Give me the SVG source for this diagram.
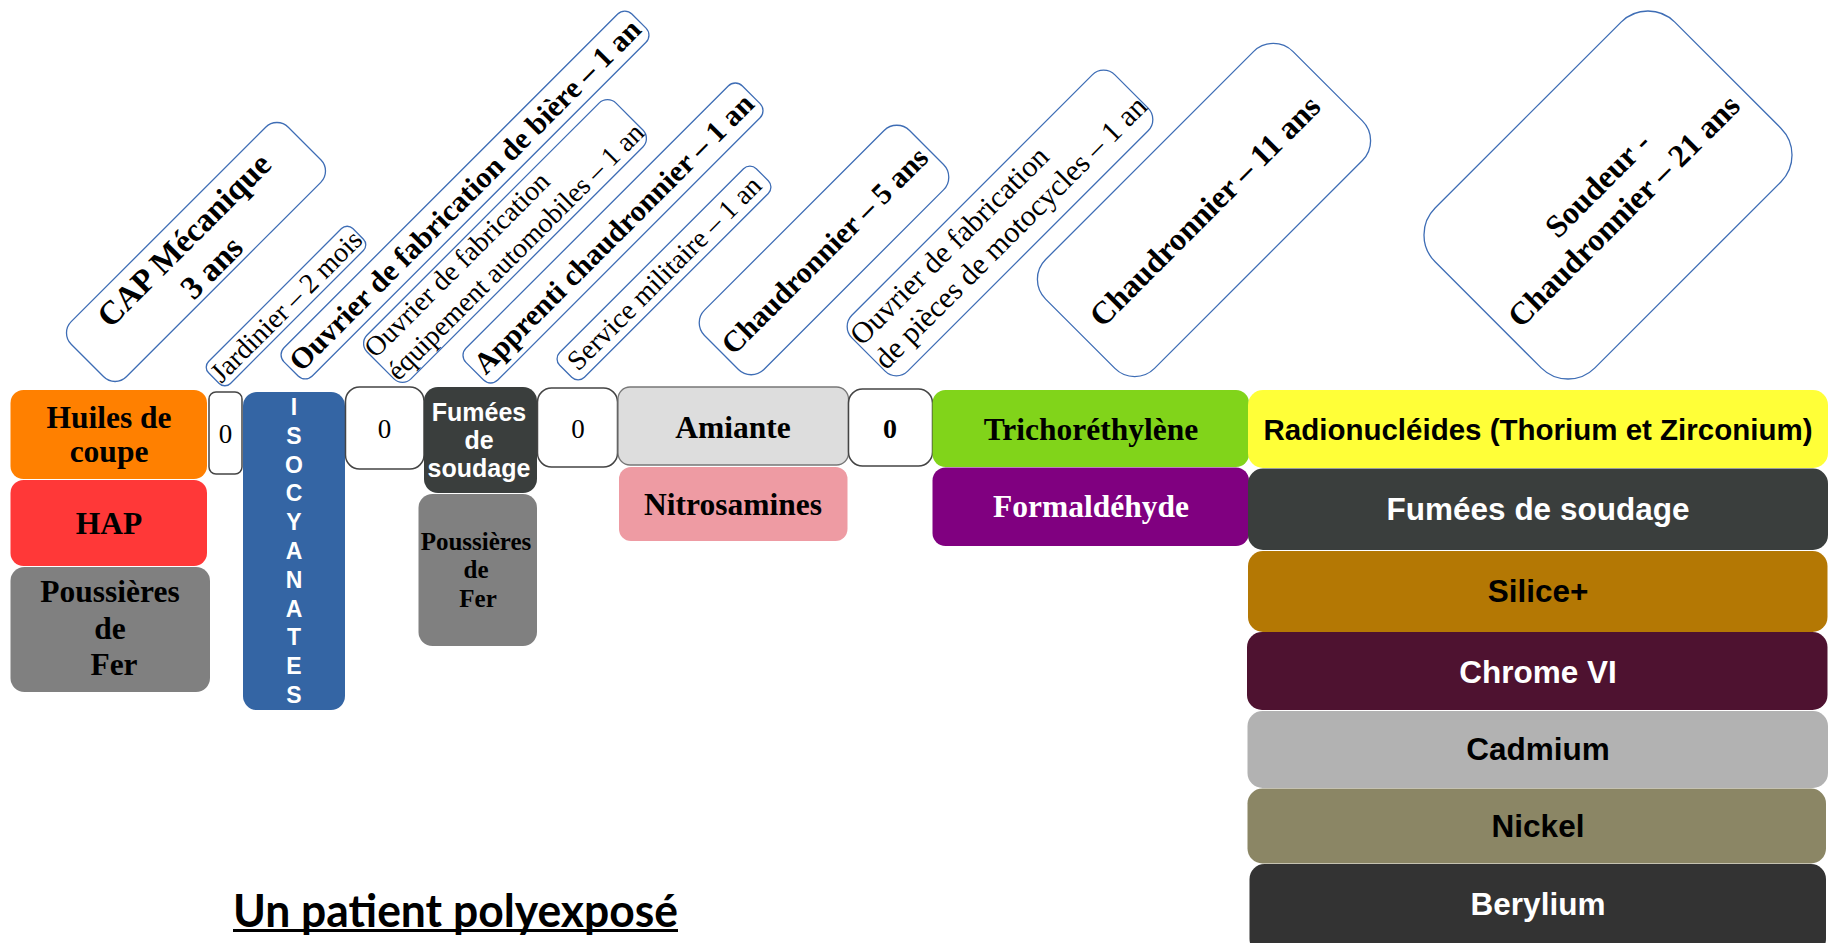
<svg xmlns="http://www.w3.org/2000/svg" width="1839" height="943" viewBox="0 0 1839 943">
<style>
.job{fill:#fff;stroke:#3E6DB5;stroke-width:1.3}
.sb{font-family:"Liberation Serif",serif;font-weight:bold;text-anchor:middle}
.sr{font-family:"Liberation Serif",serif;text-anchor:middle}
.sl{font-family:"Liberation Serif",serif;text-anchor:start}
.ab{font-family:"Liberation Sans",Arial,sans-serif;font-weight:bold;text-anchor:middle}
.zero{fill:#fff;stroke:#444;stroke-width:1.5}
.w{fill:#fff}
.k{fill:#000}
</style>
<rect width="1839" height="943" fill="#fff"/>

<!-- rotated job boxes -->
<g id="job-cap" transform="translate(196 252) rotate(-45)">
<rect class="job" x="-153.5" y="-39" width="307" height="78" rx="16"/>
<text class="sb" font-size="33" y="-6">CAP Mécanique</text>
<text class="sb" font-size="33" y="33">3 ans</text>
</g>
<g id="job-jardinier" transform="translate(286 306) rotate(-45)">
<rect class="job" x="-102" y="-15.5" width="204" height="31" rx="8"/>
<text class="sr" font-size="28" y="9.5">Jardinier – 2 mois</text>
</g>
<g id="job-biere" transform="translate(465 195) rotate(-45)">
<rect class="job" x="-246" y="-20" width="492" height="40" rx="10"/>
<text class="sb" font-size="30" y="10">Ouvrier de fabrication de bière – 1 an</text>
</g>
<g id="job-auto" transform="translate(505 241) rotate(-45)">
<rect class="job" x="-176" y="-31" width="352" height="62" rx="12"/>
<text class="sl" font-size="28" x="-175" y="-8">Ouvrier de fabrication</text>
<text class="sl" font-size="28" x="-175" y="24">équipement automobiles – 1 an</text>
</g>
<g id="job-apprenti" transform="translate(613 233) rotate(-45)">
<rect class="job" x="-195.5" y="-22.5" width="391" height="45" rx="10"/>
<text class="sb" font-size="30" y="11">Apprenti chaudronnier – 1 an</text>
</g>
<g id="job-service" transform="translate(664 273) rotate(-45)">
<rect class="job" x="-139" y="-17.5" width="278" height="35" rx="9"/>
<text class="sr" font-size="28" y="9.5">Service militaire – 1 an</text>
</g>
<g id="job-chaud5" transform="translate(824 250) rotate(-45)">
<rect class="job" x="-145" y="-42" width="290" height="84" rx="18"/>
<text class="sb" font-size="30" y="11">Chaudronnier – 5 ans</text>
</g>
<g id="job-moto" transform="translate(1000 223) rotate(-45)">
<rect class="job" x="-186" y="-39.5" width="372" height="79" rx="16"/>
<text class="sl" font-size="30" x="-185" y="-10">Ouvrier de fabrication</text>
<text class="sl" font-size="30" x="-185" y="24">de pièces de motocycles – 1 an</text>
</g>
<g id="job-chaud11" transform="translate(1204 210) rotate(-45)">
<rect class="job" x="-175" y="-77" width="350" height="154" rx="28"/>
<text class="sb" font-size="32" y="12">Chaudronnier – 11 ans</text>
</g>
<g id="job-soudeur" transform="translate(1608 195) rotate(-45)">
<rect class="job" x="-169.5" y="-113" width="339" height="226" rx="38"/>
<text class="sb" font-size="32" y="-4">Soudeur -</text>
<text class="sb" font-size="32" y="33">Chaudronnier – 21 ans</text>
</g>

<!-- exposure boxes -->
<g id="huiles"><rect x="10.5" y="390" width="196.5" height="89" rx="13" fill="#FF8000"/>
<text class="sb k" font-size="31.5" x="109" y="428">Huiles de</text>
<text class="sb k" font-size="31.5" x="109" y="462">coupe</text></g>
<g id="hap"><rect x="10.5" y="480" width="196.5" height="86" rx="13" fill="#FF3838"/>
<text class="sb k" font-size="31.5" x="109" y="534">HAP</text></g>
<g id="poussieres1"><rect x="10.5" y="567" width="199.5" height="125" rx="14" fill="#808080"/>
<text class="sb k" font-size="31.5" x="110" y="602">Poussières</text>
<text class="sb k" font-size="31.5" x="110" y="639">de</text>
<text class="sb k" font-size="31.5" x="114" y="675">Fer</text></g>
<g id="zero1"><rect class="zero" x="209" y="392" width="33" height="82" rx="7"/>
<text class="sr k" font-size="27" x="225.5" y="443">0</text></g>
<g id="isocyanates"><rect x="243" y="392" width="102" height="318" rx="14" fill="#3465A4"/>
<text class="ab w" font-size="23" x="294" y="415">I</text>
<text class="ab w" font-size="23" x="294" y="443.8">S</text>
<text class="ab w" font-size="23" x="294" y="472.6">O</text>
<text class="ab w" font-size="23" x="294" y="501.4">C</text>
<text class="ab w" font-size="23" x="294" y="530.2">Y</text>
<text class="ab w" font-size="23" x="294" y="559">A</text>
<text class="ab w" font-size="23" x="294" y="587.8">N</text>
<text class="ab w" font-size="23" x="294" y="616.6">A</text>
<text class="ab w" font-size="23" x="294" y="645.4">T</text>
<text class="ab w" font-size="23" x="294" y="674.2">E</text>
<text class="ab w" font-size="23" x="294" y="703">S</text></g>
<g id="zero2"><rect class="zero" x="345.5" y="387" width="78.5" height="82" rx="14"/>
<text class="sr k" font-size="27" x="384.6" y="438">0</text></g>
<g id="fumees1"><rect x="424" y="387" width="113" height="106" rx="14" fill="#3A3E3D"/>
<text class="ab w" font-size="25" x="479" y="421">Fumées</text>
<text class="ab w" font-size="25" x="479" y="449">de</text>
<text class="ab w" font-size="25" x="479" y="477">soudage</text></g>
<g id="poussieres2"><rect x="418.5" y="494" width="118.5" height="152" rx="14" fill="#808080"/>
<text class="sb k" font-size="25" x="476" y="550">Poussières</text>
<text class="sb k" font-size="25" x="476" y="578">de</text>
<text class="sb k" font-size="25" x="478" y="607">Fer</text></g>
<g id="zero3"><rect class="zero" x="537.5" y="388" width="80" height="79" rx="14"/>
<text class="sr k" font-size="27" x="578" y="438">0</text></g>
<g id="amiante"><rect x="618" y="387" width="230.5" height="78" rx="12" fill="#DDDDDD" stroke="#777" stroke-width="1.3"/>
<text class="sb k" font-size="31.5" x="733" y="438">Amiante</text></g>
<g id="nitrosamines"><rect x="619" y="467" width="228.5" height="74" rx="12" fill="#EE9BA3"/>
<text class="sb k" font-size="31.5" x="733" y="515">Nitrosamines</text></g>
<g id="zero4"><rect class="zero" x="848.5" y="389" width="84" height="77" rx="14"/>
<text class="sb k" font-size="28" x="890" y="438">0</text></g>
<g id="trichlo"><rect x="932.5" y="390" width="316.5" height="77" rx="13" fill="#81D41A"/>
<text class="sb k" font-size="31.5" x="1091" y="440">Trichoréthylène</text></g>
<g id="formaldehyde"><rect x="932.5" y="467.5" width="316.5" height="78.5" rx="13" fill="#800080"/>
<text class="sb w" font-size="31.5" x="1091" y="517">Formaldéhyde</text></g>
<g id="radionucleides"><rect x="1248" y="390" width="580" height="78" rx="15" fill="#FFFF38"/>
<text class="ab k" font-size="29.5" x="1538" y="440">Radionucléides (Thorium et Zirconium)</text></g>
<g id="fumees2"><rect x="1248" y="468.5" width="580" height="81.5" rx="15" fill="#3A3E3D"/>
<text class="ab w" font-size="31.5" x="1538" y="520">Fumées de soudage</text></g>
<g id="silice"><rect x="1248" y="551" width="579.5" height="81" rx="15" fill="#B47804"/>
<text class="ab k" font-size="31.5" x="1538" y="602">Silice+</text></g>
<g id="chrome"><rect x="1247" y="632" width="580.5" height="78" rx="15" fill="#4E1230"/>
<text class="ab w" font-size="31.5" x="1538" y="683">Chrome VI</text></g>
<g id="cadmium"><rect x="1247.5" y="711" width="580.5" height="77" rx="15" fill="#B2B2B2"/>
<text class="ab k" font-size="31.5" x="1538" y="760">Cadmium</text></g>
<g id="nickel"><rect x="1247.5" y="788.5" width="578.5" height="75" rx="15" fill="#8B8665"/>
<text class="ab k" font-size="31.5" x="1538" y="837">Nickel</text></g>
<g id="berylium"><rect x="1249.5" y="864" width="576.5" height="90" rx="15" fill="#333333"/>
<text class="ab w" font-size="31.5" x="1538" y="915">Berylium</text></g>

<g id="connectors"></g>

<g id="title">
<text x="233" y="927" font-family="Lato,'Open Sans',sans-serif" font-weight="bold" font-size="46" textLength="445" lengthAdjust="spacingAndGlyphs" fill="#000">Un patient polyexposé</text>
<rect x="233" y="929" width="445" height="3" fill="#000"/>
</g>
</svg>
